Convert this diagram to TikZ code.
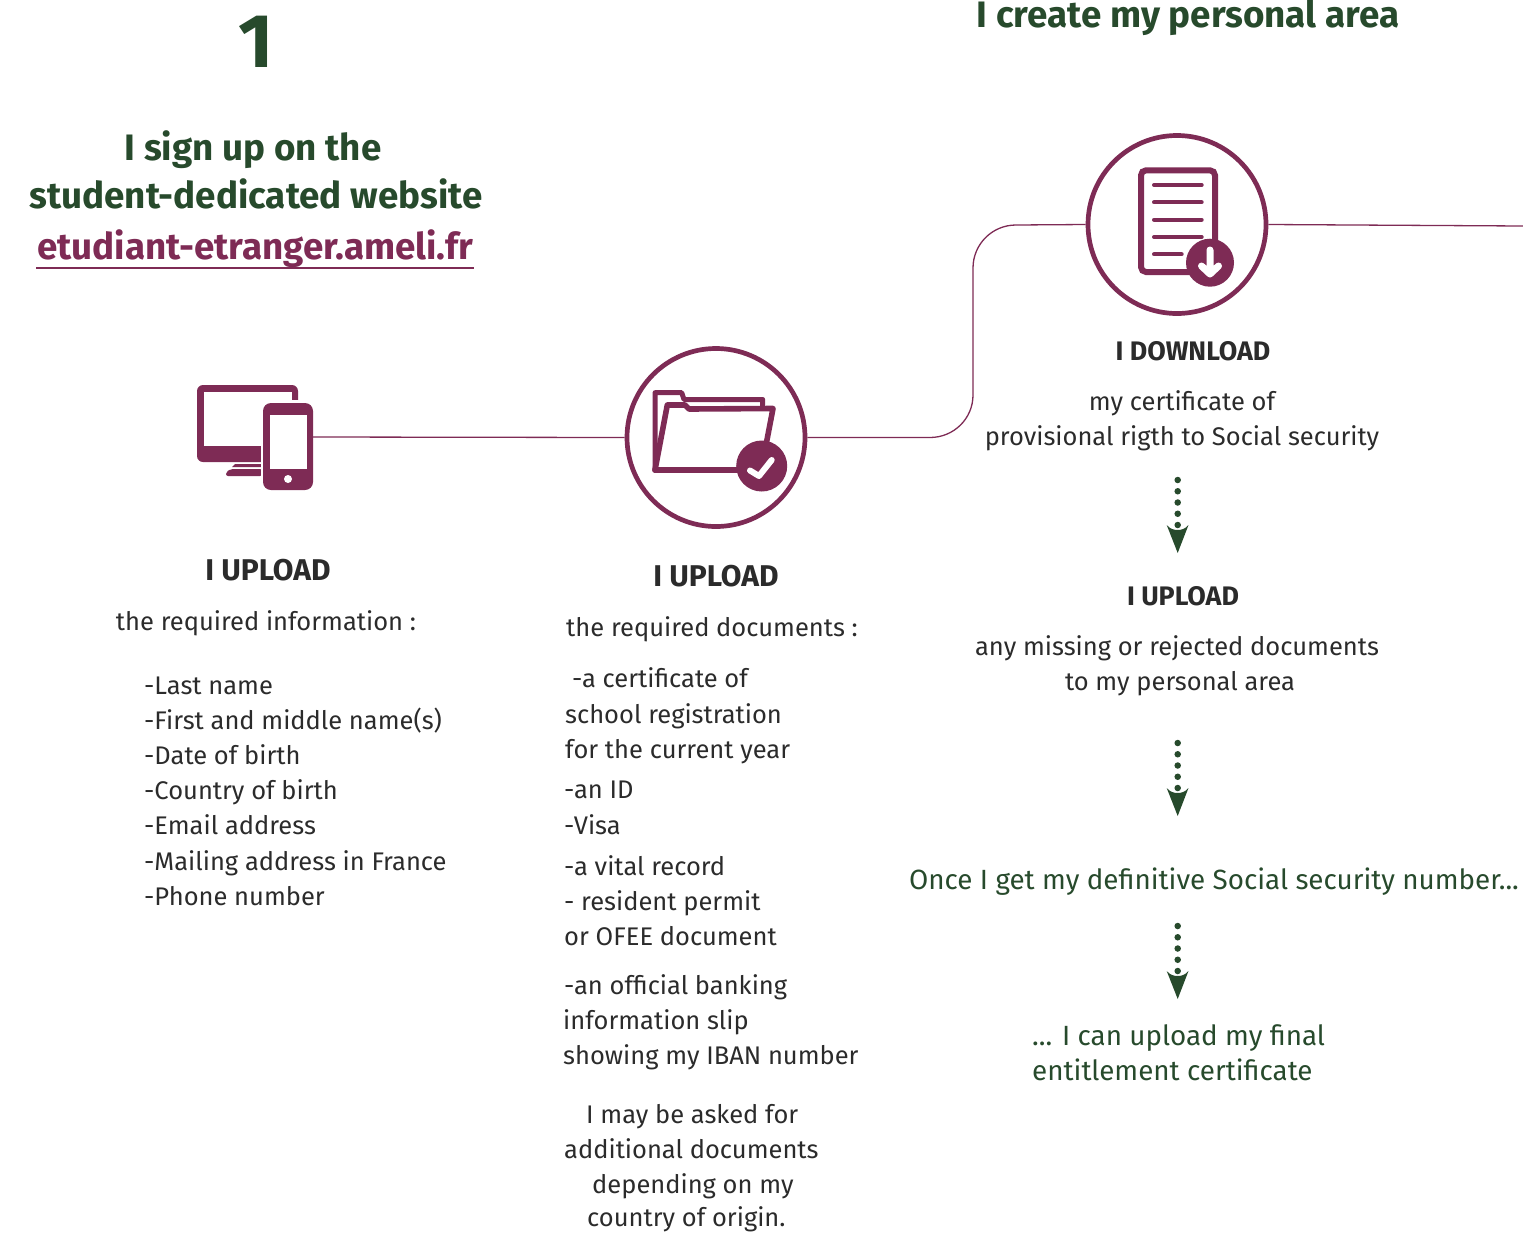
\documentclass[tikz,border=0pt]{standalone}
\usepackage{fontspec}
\setmainfont{Fira Sans}
\definecolor{plum}{HTML}{7E2B55}
\definecolor{forest}{HTML}{274A2C}
\definecolor{ink}{HTML}{2B2B2B}
\tikzset{
  px/.style={x=1pt,y=-1pt},
  txt/.style={font=\fontsize{25.5}{25.5}\selectfont,text=ink,inner sep=0pt,anchor=base west,yshift=1pt},
  ctxt/.style={txt,anchor=base},
  grn/.style={font=\fontsize{27.8}{27.8}\selectfont,text=forest,inner sep=0pt,anchor=base},
  hd/.style={font=\fontsize{30}{30}\selectfont\bfseries,text=ink,inner sep=0pt,anchor=base},
  hdsm/.style={font=\fontsize{26.8}{26.8}\selectfont\bfseries,text=ink,inner sep=0pt,anchor=base,yshift=1pt},
  title/.style={font=\fontsize{36.8}{36.8}\selectfont\bfseries,text=forest,inner sep=0pt,anchor=base},
  ring/.style={circle,draw=plum,line width=4.7pt,minimum size=178pt,inner sep=0pt},
  conn/.style={draw=plum,line width=1.3pt},
  dots/.style={draw=forest,line width=6.5pt,line cap=round,dash pattern=on 0pt off 11.25pt},
  tipg/.style={fill=forest,draw=none},
  icon/.style={draw=plum,line width=5.6pt,line join=round,line cap=round}
}
\begin{document}
\begin{tikzpicture}[px]
\useasboundingbox (0,0) rectangle (1523,1232);
\node[inner sep=0,anchor=base,font=\fontsize{76}{76}\selectfont\bfseries,text=forest] (one) at (256,67) {1};
\node[title] (t0) at (1188,27) {I create my personal area};
\node[title] (t1) at (253,160) {I sign up on the};
\node[title] (t2) at (256,208) {student-dedicated website};
\node[title,text=plum] (t3) at (255,259) {etudiant-etranger.ameli.fr};
\draw[plum,line width=2pt] (36,268)--(474,268);
% icon devices
\coordinate (devR) at (313,437);
\fill[plum,rounded corners=6pt] (197,385) rectangle (298,462);
\fill[white] (204,392) rectangle (292,446);
\fill[white] (261,400) rectangle (300,464);
\fill[plum] (235,464)--(261,464)--(261,467)--(232,467)--cycle;
\fill[plum,rounded corners=2pt] (231,469)--(262,469)--(262,476)--(226,476)--(226,472)--cycle;
\fill[white] (261,462) rectangle (263,480);
\fill[plum,rounded corners=8pt] (263,403) rectangle (313,490);
\fill[white] (270,415) rectangle (307,469);
\fill[white] (288,479) circle (4pt);
% rings
\node[ring] (r1) at (716,437.5) {};
\node[ring] (r2) at (1177,224.5) {};
% folder
\draw[icon,line width=5pt] (655,470)--(655,392.7)--(681.7,392.7)--(684,399.5)--(762.7,399.5)--(762.7,407);
\draw[icon] (655,470)--(667.3,405)--(685,405)--(689,409)--(773,408.5)--(766,445);
\draw[icon] (655,470)--(745,470);
\fill[plum] (761.7,466) circle (25.5pt);
\draw[white,line width=6pt,line cap=round,line join=round] (750,470.5)--(759,476)--(771.7,460);
% doc
\draw[plum,line width=6pt,rounded corners=5pt] (1141,170.3) rectangle (1215,272);
\foreach \y/\e in {185/1201.7,202.3/1201.7,219.7/1201.7,237/1201.7,254.3/1181.7}{\draw[plum,line width=4pt,line cap=round] (1154,\y)--(\e,\y);}
\fill[plum] (1210,262.7) circle (24pt);
\draw[white,line width=7pt,line cap=round,line join=round] (1210,250)--(1210,274) (1201.5,266)--(1210,274)--(1218.5,266);
% connectors
\coordinate (end) at (1523,226);
\draw[conn] (devR)--(r1.west);
\draw[conn] (r1.east)--(930,437.5) to[out=0,in=270,looseness=1] (973,395)--(973,268) to[out=90,in=180,looseness=1] (1016,225)--(r2.west);
\draw[conn] (r2.east)--(end);
% dotted arrows
\foreach \a/\b in {480/525,743/788,926/971}{
  \coordinate (s) at (1177.7,\a); \coordinate (e) at (1177.7,\b);
  \draw[dots] (s)--(1177.7,\b+1);
  \fill[tipg] (1166.7,\b) .. controls (1170,\b+4) and (1174,\b+5) .. (1177.7,\b+5) .. controls (1181.4,\b+5) and (1185,\b+4) .. (1188.5,\b)--(1177.7,\b+28)--cycle;
}
% col1
\node[hd] (h1) at (268,580) {I UPLOAD};
\node[ctxt] (c1) at (266,631) {the required information :};
\foreach \y/\s in {695/-Last name,730/-First and middle name(s),765/-Date of birth,800/-Country of birth,835/-Email address,871/-Mailing address in France,906/-Phone number}{
  \node[txt] at (144,\y) {\s};
}
% col2
\node[hd] (h2) at (716,586) {I UPLOAD};
\node[txt] at (566,637) {the required documents :};
\foreach \x/\y/\s in {572/688/-a certificate of,565/724/school registration,565/759/for the current year,564/799/-an ID,564/835/-Visa,564/876/-a vital record,564/911/- resident permit,564/946/or OFEE document,564/995/-an official banking,563/1030/information slip,563/1065/showing my IBAN number,586/1124/I may be asked for,564/1159/additional documents,592/1194/depending on my,587/1227/country of origin.}{
  \node[txt] at (\x,\y) {\s};
}
% col3
\node[hdsm] (h3) at (1193,361) {I DOWNLOAD};
\node[ctxt] at (1182,411) {my certificate of};
\node[ctxt] at (1182,446) {provisional rigth to Social security};
\node[hdsm] (h4) at (1183,606) {I UPLOAD};
\node[ctxt] at (1177,656) {any missing or rejected documents};
\node[ctxt] at (1180,691) {to my personal area};
\node[grn] at (1214,889) {Once I get my definitive Social security number...};
\node[grn,anchor=base west] at (1032,1045) {... I can upload my final};
\node[grn,anchor=base west] at (1032,1080) {entitlement certificate};
\end{tikzpicture}
\end{document}
